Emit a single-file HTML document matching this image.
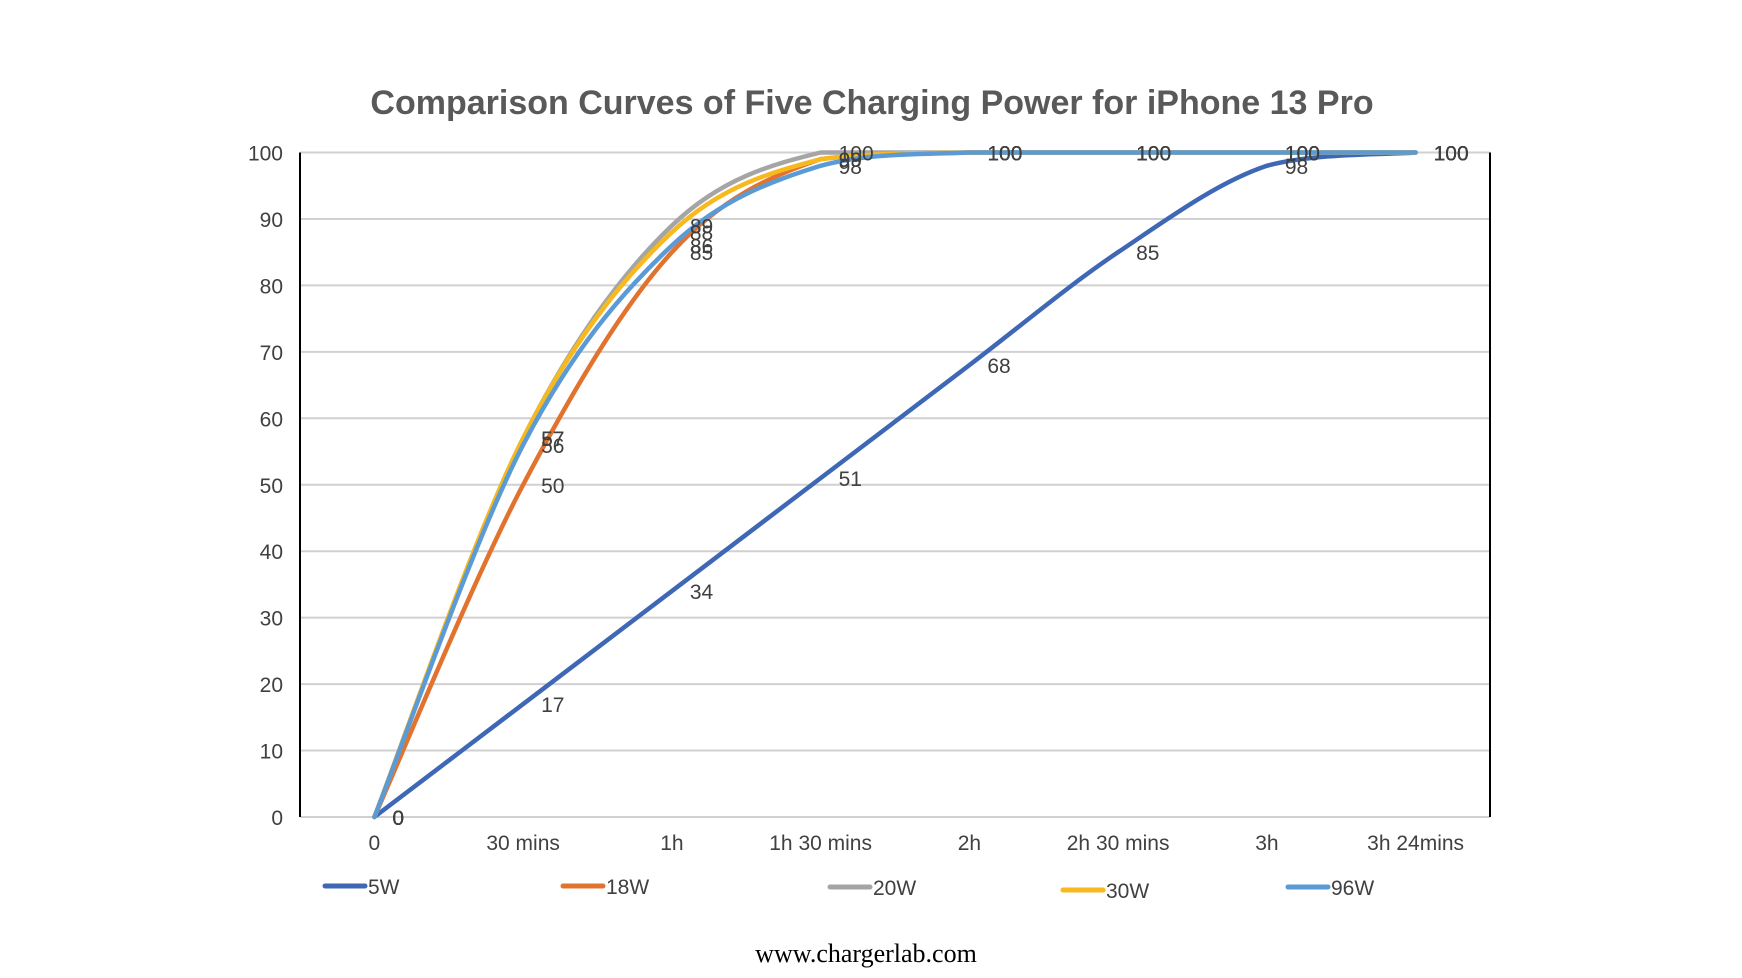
<!DOCTYPE html>
<html><head><meta charset="utf-8">
<style>
html,body{margin:0;padding:0;background:#fff;}
svg{display:block;font-family:"Liberation Sans",sans-serif;}
</style></head>
<body>
<svg id="chart" width="1742" height="978" viewBox="0 0 1742 978" xmlns="http://www.w3.org/2000/svg">
<text x="872" y="114" text-anchor="middle" font-size="34" font-weight="bold" fill="#595959">Comparison Curves of Five Charging Power for iPhone 13 Pro</text>
<g id="grid"></g>
<g id="axes"></g>
<g id="series"></g>
<g id="labels"></g>
<g id="legend"></g>
<text x="866" y="962" text-anchor="middle" font-size="26" font-family="Liberation Serif,serif" fill="#000">www.chargerlab.com</text>
</svg>
<script>
const categories = ["0","30 mins","1h","1h 30 mins","2h","2h 30 mins","3h","3h 24mins"];
const yTicks = [0,10,20,30,40,50,60,70,80,90,100];
const seriesNames = ["5W","18W","20W","30W","96W"];
const s5W = [0,17,34,51,68,85,98,100];
const s18W = [0,50,85,99,100,100,100,100];
const s20W = [0,57,89,100,100,100,100,100];
const s30W = [0,57,88,99,100,100,100,100];
const s96W = [0,56,86,98,100,100,100,100];
const seriesColors = ["#3E67B5","#E2732F","#A5A5A5","#F7B91E","#5B9BD5"];

const NS="http://www.w3.org/2000/svg";
const L=300,R=1490,T=152.5,B=817;
const step=(R-L)/categories.length;
function xPos(i){return L+step*(i+0.5);}
function yPos(v){return B-(v/100)*(B-T);}
function mk(tag,attrs,parent){const e=document.createElementNS(NS,tag);for(const k in attrs)e.setAttribute(k,attrs[k]);parent.appendChild(e);return e;}
const grid=document.getElementById('grid'),axes=document.getElementById('axes'),ser=document.getElementById('series'),lab=document.getElementById('labels'),leg=document.getElementById('legend');

yTicks.forEach(v=>{
  const ln=mk('line',{x1:L,x2:R,y1:yPos(v),y2:yPos(v),stroke:'#d0d0d0','stroke-width':2},grid);
  
  
  const t=mk('text',{x:283,y:yPos(v)+8,'text-anchor':'end','font-size':21,fill:'#404040'},axes);
  t.textContent=v;
  
  
});
const la=mk('line',{x1:L,x2:L,y1:T,y2:B,stroke:'#000','stroke-width':2},axes);


const ra=mk('line',{x1:R,x2:R,y1:T,y2:B,stroke:'#000','stroke-width':2},axes);


categories.forEach((c,i)=>{
  const t=mk('text',{x:xPos(i),y:850,'text-anchor':'middle','font-size':21,fill:'#404040'},axes);
  t.textContent=c;
  
  
});

function smoothPath(vals){
  const p=vals.map((v,i)=>[xPos(i),yPos(v)]);
  const top=yPos(100);
  let d='M'+p[0][0]+','+p[0][1];
  const k=1/6;
  for(let i=0;i<p.length-1;i++){
    const p0=p[Math.max(0,i-1)],p1=p[i],p2=p[i+1],p3=p[Math.min(p.length-1,i+2)];
    const c1=[p1[0]+(p2[0]-p0[0])*k,Math.max(top,p1[1]+(p2[1]-p0[1])*k)];
    const c2=[p2[0]-(p3[0]-p1[0])*k,Math.max(top,p2[1]-(p3[1]-p1[1])*k)];
    d+=' C'+c1[0]+','+c1[1]+' '+c2[0]+','+c2[1]+' '+p2[0]+','+p2[1];
  }
  return d;
}
const allSeries=[s5W,s18W,s20W,s30W,s96W];
allSeries.forEach((vals,si)=>{
  const path=mk('path',{d:smoothPath(vals),fill:'none',stroke:seriesColors[si],'stroke-width':4.5,'stroke-linecap':'round'},ser);
  
  
  vals.forEach((v,i)=>{
    const t=mk('text',{x:xPos(i)+18,y:yPos(v)+8,'font-size':21,fill:'#404040'},lab);
    t.textContent=v;
    
    
  });
});
const legX=[325,563,830,1063,1288];
const legY=[886,886,887,890,887];
seriesNames.forEach((n,i)=>{
  const g=mk('g',{},leg);
  
  
  mk('line',{x1:legX[i],x2:legX[i]+40,y1:legY[i],y2:legY[i],stroke:seriesColors[i],'stroke-width':5,'stroke-linecap':'round'},g);
  const t=mk('text',{x:legX[i]+43,y:legY[i]+8,'font-size':21,fill:'#404040'},g);
  t.textContent=n;
});
</script>
</body></html>
